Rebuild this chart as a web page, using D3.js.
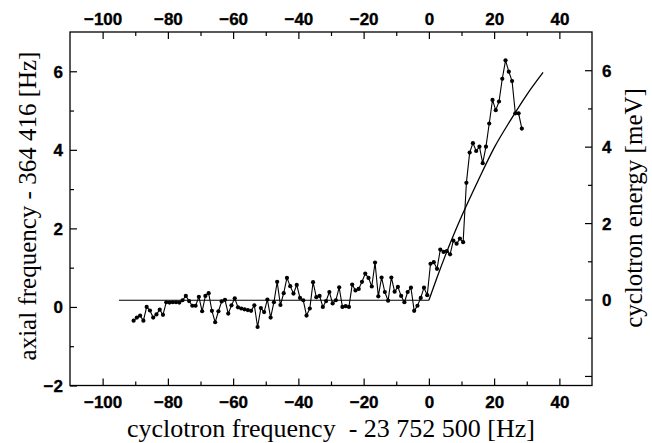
<!DOCTYPE html>
<html>
<head>
<meta charset="utf-8">
<script src="https://cdn.jsdelivr.net/npm/d3@7"></script>
<style>
  body { margin: 0; background: #fff; }
  .tick text { font-family: "Liberation Sans", Arial, sans-serif; font-weight: bold; font-size: 17px; fill: #000; stroke: #000; stroke-width: 0.35px; }
  .axis path.domain { display: none; }
  .axis line { stroke: #000; stroke-width: 1.2; }
  .title { font-family: "Liberation Serif", "Times New Roman", serif; font-size: 25px; fill: #000; }
</style>
</head>
<body>
<svg id="chart"></svg>
<script>
// measured points: cyclotron frequency offset [Hz] vs axial frequency offset [Hz]
var dataX = [-90.5, -89.5, -88.5, -87.5, -86.5, -85.5, -84.5, -83.5, -82.5, -81.5,
    -80.5, -79.5, -78.5, -77.5, -76.5, -75.5, -74.5, -73.5, -72.5, -71.5,
    -70.5, -69.5, -68.5, -67.5, -66.5, -65.5, -64.5, -63.5, -62.5, -61.5,
    -60.5, -59.5, -58.5, -57.5, -56.5, -55.5, -54.5, -53.5, -52.5, -51.5,
    -50.5, -49.5, -48.5, -47.5, -46.5, -45.5, -44.5, -43.5, -42.5, -41.5,
    -40.5, -39.5, -38.5, -37.5, -36.5, -35.5, -34.5, -33.5, -32.5, -31.5,
    -30.5, -29.5, -28.5, -27.5, -26.5, -25.5, -24.5, -23.5, -22.5, -21.5,
    -20.5, -19.5, -18.5, -17.5, -16.5, -15.5, -14.5, -13.5, -12.5, -11.5,
    -10.5, -9.5, -8.5, -7.5, -6.5, -5.5, -4.5, -3.5, -2.5, -1.5,
    -0.5, 0.5, 1.5, 2.5, 3.5, 4.5, 5.5, 6.5, 7.5, 8.5,
    9.5, 10.5, 11.5, 12.5, 13.5, 14.5, 15.5, 16.5, 17.5, 18.5,
    19.5, 20.5, 21.5, 22.5, 23.5, 24.5, 25.5, 26.5, 27.5, 28.5];
var dataY = [-0.35, -0.27, -0.22, -0.35, 0.00, -0.09, -0.27, -0.19, -0.07, -0.20,
    0.12, 0.11, 0.12, 0.12, 0.11, 0.17, 0.28, 0.15, 0.03, 0.03,
    0.26, -0.11, 0.28, 0.35, -0.10, -0.39, -0.11, 0.14, 0.18, -0.17,
    0.04, 0.22, -0.01, -0.04, -0.06, -0.08, -0.10, 0.04, -0.51, -0.03,
    -0.13, 0.19, -0.27, 0.12, 0.64, 0.05, 0.35, 0.74, 0.53, 0.34,
    0.56, 0.23, 0.17, -0.22, -0.04, 0.63, 0.25, 0.28, 0.00, 0.15,
    0.38, 0.09, 0.17, 0.50, 0.00, 0.02, 0.00, 0.57, 0.42, 0.46,
    0.64, 0.85, 0.74, 0.52, 1.13, 0.27, 0.75, 0.38, 0.16, 0.75,
    0.39, 0.51, 0.28, 0.12, 0.38, 0.49, -0.10, 0.03, 0.23, 0.49,
    0.30, 1.10, 1.14, 0.97, 1.46, 1.40, 1.42, 1.34, 1.69, 1.61,
    1.74, 1.65, 3.16, 3.93, 4.17, 3.97, 4.08, 3.66, 4.08, 4.67,
    5.27, 5.01, 5.23, 5.81, 6.28, 5.99, 5.75, 4.93, 4.93, 4.54];

// fitted curve (flat part, then the rise)
var fitFlatX = [-95, 0];
var fitFlatY = [0.17, 0.17];
var fitRiseX = [0, 2.5, 5, 10, 15, 20, 25, 30, 35];
var fitRiseY = [0.17, 0.75, 1.3, 2.3, 3.2, 4.05, 4.75, 5.4, 5.97];

// axis ticks
var xMajor = [-100, -80, -60, -40, -20, 0, 20, 40];
var xMinor = [-90, -70, -50, -30, -10, 10, 30];
var yMajor = [-2, 0, 2, 4, 6];
var yMinor = [-1, 1, 3, 5];
var eMajor = [-2, 0, 2, 4, 6];
var eLabels = ['', '0', '2', '4', '6'];
var eMinor = [-1, 1, 3, 5];

var width = 652, height = 443;
var plot = { left: 70, right: 592, top: 32, bottom: 385.5 };

var svg = d3.select('#chart')
    .attr('width', width)
    .attr('height', height);

var xScale = d3.scaleLinear().domain([-110, 50]).range([plot.left, plot.right]);
var yScale = d3.scaleLinear().domain([-2, 7]).range([plot.bottom, plot.top]);
var eScale = d3.scaleLinear().domain([-2.25, 7.0]).range([plot.bottom, plot.top]);

function addAxis(axis, cls, tx, ty) {
    svg.append('g')
        .attr('class', 'axis ' + cls)
        .attr('transform', 'translate(' + tx + ',' + ty + ')')
        .call(axis);
}

// bottom
addAxis(d3.axisBottom(xScale).tickValues(xMajor).tickSize(-7).tickPadding(10)
    .tickFormat(d3.format('d')), 'xb', 0, plot.bottom);
addAxis(d3.axisBottom(xScale).tickValues(xMinor).tickSize(-4).tickFormat(''), 'xb2', 0, plot.bottom);
// top
addAxis(d3.axisTop(xScale).tickValues(xMajor).tickSize(-7).tickPadding(7)
    .tickFormat(d3.format('d')), 'xt', 0, plot.top);
addAxis(d3.axisTop(xScale).tickValues(xMinor).tickSize(-4).tickFormat(''), 'xt2', 0, plot.top);
// left
addAxis(d3.axisLeft(yScale).tickValues(yMajor).tickSize(-7).tickPadding(7)
    .tickFormat(d3.format('d')), 'yl', plot.left, 0);
addAxis(d3.axisLeft(yScale).tickValues(yMinor).tickSize(-4).tickFormat(''), 'yl2', plot.left, 0);
// right (energy)
addAxis(d3.axisRight(eScale).tickValues(eMajor).tickSize(-7).tickPadding(10)
    .tickFormat(function(d, i) { return eLabels[i]; }), 'yr', plot.right, 0);
addAxis(d3.axisRight(eScale).tickValues(eMinor).tickSize(-4).tickFormat(''), 'yr2', plot.right, 0);

svg.selectAll('.tick text').attr('dy', null);
svg.selectAll('.xb .tick text').attr('dy', '0.71em');
svg.selectAll('.yl .tick text, .yr .tick text').attr('dy', '0.35em');

// frame
svg.append('rect')
    .attr('x', plot.left)
    .attr('y', plot.top)
    .attr('width', plot.right - plot.left)
    .attr('height', plot.bottom - plot.top)
    .attr('fill', 'none')
    .attr('stroke', '#000')
    .attr('stroke-width', 1.3);

// fit curve
var flat = fitFlatX.map(function(d, i) { return [d, fitFlatY[i]]; });
var rise = fitRiseX.map(function(d, i) { return [d, fitRiseY[i]]; });
var fitLine = d3.line()
    .x(function(d) { return xScale(d[0]); })
    .y(function(d) { return yScale(d[1]); });
svg.append('path')
    .attr('d', fitLine(flat))
    .attr('fill', 'none').attr('stroke', '#000').attr('stroke-width', 1.2);
svg.append('path')
    .attr('d', fitLine.curve(d3.curveMonotoneX)(rise))
    .attr('fill', 'none').attr('stroke', '#000').attr('stroke-width', 1.3);

// data line + dots
var pts = dataX.map(function(d, i) { return [d, dataY[i]]; });
var dataLine = d3.line()
    .x(function(d) { return xScale(d[0]); })
    .y(function(d) { return yScale(d[1]); });
svg.append('path')
    .attr('d', dataLine(pts))
    .attr('fill', 'none').attr('stroke', '#000').attr('stroke-width', 1.1);
svg.append('g').selectAll('circle')
    .data(pts)
    .enter().append('circle')
    .attr('cx', function(d) { return xScale(d[0]); })
    .attr('cy', function(d) { return yScale(d[1]); })
    .attr('r', 2.1)
    .attr('fill', '#000');

// titles
svg.append('text')
    .attr('class', 'title')
    .attr('x', (plot.left + plot.right) / 2)
    .attr('y', 437)
    .attr('text-anchor', 'middle')
    .style('font-size', '26px')
    .style('white-space', 'pre')
    .text('cyclotron frequency  - 23 752 500 [Hz]');
svg.append('text')
    .attr('class', 'title')
    .attr('transform', 'translate(36,206) rotate(-90)')
    .attr('text-anchor', 'middle')
    .text('axial frequency - 364 416 [Hz]');
svg.append('text')
    .attr('class', 'title')
    .attr('transform', 'translate(642,208) rotate(-90)')
    .attr('text-anchor', 'middle')
    .text('cyclotron energy [meV]');
</script>
</body>
</html>
